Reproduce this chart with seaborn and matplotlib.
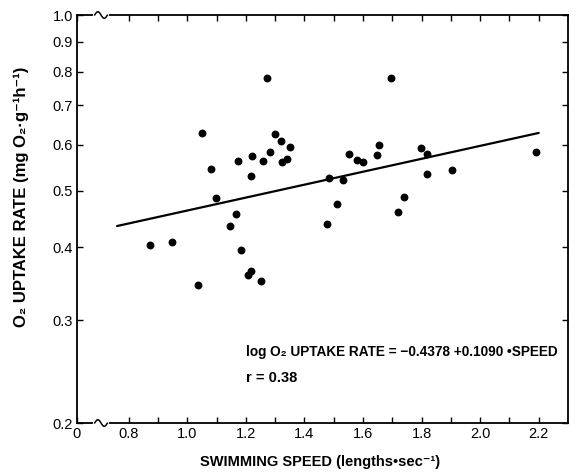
import numpy as np
import pandas as pd
import matplotlib
matplotlib.use('Agg')
import matplotlib.pyplot as plt
from matplotlib.ticker import FixedLocator, NullLocator, FixedFormatter
import seaborn as sns

# Data
speed = [0.871, 0.949, 1.036, 1.051, 1.080, 1.099, 1.145, 1.166, 1.174, 1.182,
         1.207, 1.218, 1.218, 1.222, 1.253, 1.257, 1.272, 1.281, 1.299, 1.319,
         1.324, 1.342, 1.352, 1.477, 1.483, 1.510, 1.531, 1.551, 1.580, 1.601,
         1.646, 1.656, 1.696, 1.721, 1.741, 1.798, 1.818, 1.818, 1.903, 2.190]
uptake = [0.404, 0.409, 0.345, 0.629, 0.544, 0.486, 0.435, 0.456, 0.562, 0.396,
          0.359, 0.364, 0.529, 0.574, 0.350, 0.562, 0.780, 0.583, 0.626, 0.608,
          0.559, 0.567, 0.593, 0.438, 0.526, 0.475, 0.521, 0.577, 0.565, 0.559,
          0.576, 0.600, 0.780, 0.460, 0.488, 0.591, 0.579, 0.534, 0.543, 0.583]

# regression line end points
fit_speed = [0.76, 2.20]
fit_uptake = [0.435, 0.628]

x_ticks = [0.8, 1.0, 1.2, 1.4, 1.6, 1.8, 2.0, 2.2]
x_minor = [0.9, 1.1, 1.3, 1.5, 1.7, 1.9, 2.1]
y_ticks = [0.2, 0.3, 0.4, 0.5, 0.6, 0.7, 0.8, 0.9, 1.0]

df = pd.DataFrame({'speed': speed, 'uptake': uptake})
fit = pd.DataFrame({'speed': fit_speed, 'uptake': fit_uptake})

sns.set_style('ticks')
plt.rcParams['font.family'] = ['Liberation Sans', 'DejaVu Sans']
plt.rcParams['text.color'] = 'black'
plt.rcParams['axes.labelcolor'] = 'black'
plt.rcParams['xtick.color'] = 'black'
plt.rcParams['ytick.color'] = 'black'
plt.rcParams['axes.edgecolor'] = 'black'

fig = plt.figure(figsize=(5.77, 4.72), dpi=100)
ax = fig.add_axes([0.1334, 0.1038, 0.851, 0.8644])

sns.lineplot(data=fit, x='speed', y='uptake', color='black', linewidth=1.6, ax=ax)
sns.scatterplot(data=df, x='speed', y='uptake', color='black', s=32,
                edgecolor='black', linewidth=0, ax=ax, zorder=3)

ax.set_yscale('log')
x_left = 0.623
ax.set_xlim(x_left, 2.30)
ax.set_ylim(0.2, 1.0)

ax.xaxis.set_major_locator(FixedLocator([x_left] + x_ticks))
ax.xaxis.set_major_formatter(FixedFormatter(['0'] + ['%.1f' % v for v in x_ticks]))
ax.xaxis.set_minor_locator(FixedLocator(x_minor))
ax.yaxis.set_major_locator(FixedLocator(y_ticks))
ax.yaxis.set_major_formatter(FixedFormatter(['%.1f' % v for v in y_ticks]))
ax.yaxis.set_minor_locator(NullLocator())

ax.tick_params(which='both', direction='in', top=True, right=True,
               length=4, width=1, labelsize=10.5, pad=3)
for spine in ax.spines.values():
    spine.set_linewidth(1.3)

# axis break marks on the bottom and top spines
for yb in (0.0, 1.0):
    ax.plot([0.036, 0.062], [yb, yb], color='white', linewidth=3,
            transform=ax.transAxes, clip_on=False, zorder=5)
    t = np.linspace(0, 1, 30)
    ax.plot(0.036 + 0.026 * t, yb + 0.008 * np.sin(2 * np.pi * t),
            color='black', linewidth=1.1, transform=ax.transAxes,
            clip_on=False, zorder=6)

ax.set_xlabel('SWIMMING SPEED (lengths\u2022sec\u207b\u00b9)', fontsize=10.5,
              fontweight='bold')
ax.xaxis.set_label_coords(0.495, -0.078)
ax.set_ylabel('O\u2082 UPTAKE RATE (mg O\u2082\u00b7g\u207b\u00b9h\u207b\u00b9)',
              fontsize=12, fontweight='bold')
ax.yaxis.set_label_coords(-0.097, 0.554)

ax.text(1.20, 0.265, 'log O\u2082 UPTAKE RATE = \u22120.4378 +0.1090 \u2022SPEED',
        fontsize=9.8, fontweight='bold', ha='left', va='center')
ax.text(1.20, 0.239, 'r = 0.38', fontsize=10.5, fontweight='bold',
        ha='left', va='center')

fig.savefig('out.png', dpi=100)
